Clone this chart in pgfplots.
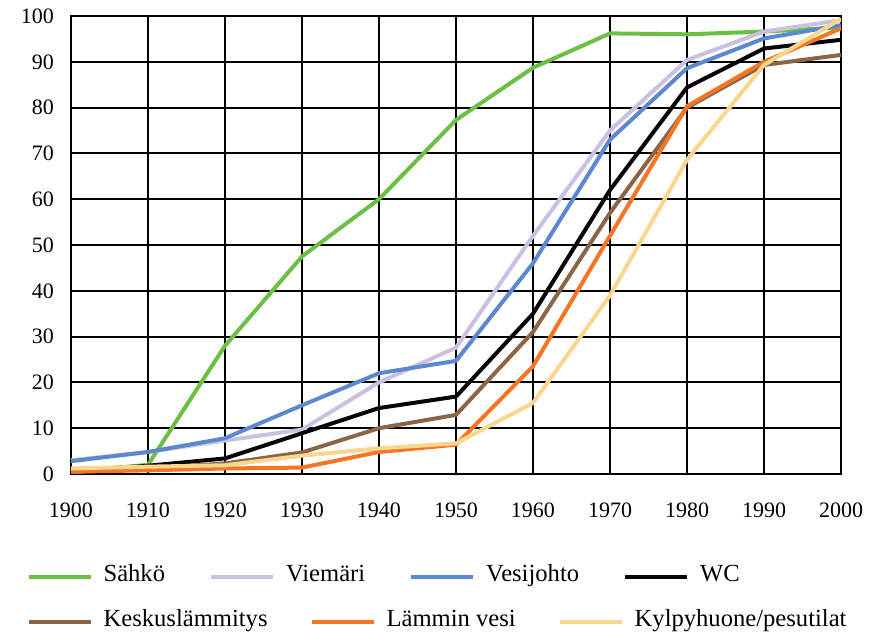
\documentclass[border=0pt]{standalone}
\usepackage{fontspec}
\setmainfont{Liberation Serif}
\usepackage{pgfplots}
\pgfplotsset{compat=1.18}
\definecolor{csahko}{RGB}{108,190,69}
\definecolor{cviem}{RGB}{202,192,226}
\definecolor{cvesi}{RGB}{92,136,208}
\definecolor{cwc}{RGB}{10,5,5}
\definecolor{ckesk}{RGB}{140,100,70}
\definecolor{clamm}{RGB}{244,118,36}
\definecolor{ckylp}{RGB}{250,214,142}
\pgfplotsset{
  common/.style={
    scale only axis, width=385pt, height=229pt,
    xmin=1900, xmax=2000, ymin=0, ymax=100,
    legend image code/.code={\draw[##1] (0pt,0pt) -- (31pt,0pt);},
  },
  legstyle/.style={
    legend style={draw=none, fill=none, anchor=west,
      font=\rmfamily\fontsize{12.3}{14}\selectfont,
      nodes={inner sep=0pt, text height=0.7em, text depth=0.25em},
      /tikz/every odd column/.append style={column sep=5.5pt}},
  },
}
\begin{document}
\begin{tikzpicture}
\begin{axis}[common, legstyle,
  xtick={1900,1910,...,2000}, ytick={0,10,...,100},
  grid=major, major grid style={black, line width=1pt},
  axis line style={black, line width=1pt},
  major tick length=0pt,
  tick label style={font=\rmfamily\fontsize{11}{13}\selectfont},
  /pgf/number format/assume math mode=true,
  /pgf/number format/1000 sep={},
  xticklabel style={yshift=-11pt},
  yticklabel style={xshift=-5pt},
  legend columns=4,
  legend style={at={(-0.066,-0.2249)},
    /tikz/every even column/.append style={column sep=22pt}},
  every axis plot/.append style={line width=2pt, line join=round},
]
\addplot[csahko] coordinates {(1900,0.5)(1910,2)(1920,28)(1930,47.5)(1940,60)(1950,77.3)(1960,88.7)(1970,96.2)(1980,96)(1990,96.6)(2000,97.5)};
\addlegendentry{Sähkö}
\addplot[cviem] coordinates {(1900,3)(1910,4.8)(1920,7.3)(1930,9.7)(1940,20)(1950,27.6)(1960,52)(1970,75)(1980,90.4)(1990,96.6)(2000,99.1)};
\addlegendentry{Viemäri}
\addplot[cvesi] coordinates {(1900,2.8)(1910,4.8)(1920,7.8)(1930,15)(1940,22)(1950,24.7)(1960,46)(1970,73)(1980,88.6)(1990,95.1)(2000,98)};
\addlegendentry{Vesijohto}
\addplot[cwc] coordinates {(1900,0.5)(1910,1.8)(1920,3.4)(1930,8.9)(1940,14.4)(1950,16.9)(1960,35)(1970,62)(1980,84.4)(1990,92.9)(2000,94.8)};
\addlegendentry{WC}
\addplot[ckesk, forget plot] coordinates {(1900,0.4)(1910,1.2)(1920,2.3)(1930,4.7)(1940,10)(1950,12.9)(1960,31)(1970,57)(1980,80)(1990,89.3)(2000,91.5)};
\addplot[clamm, forget plot] coordinates {(1900,0.5)(1910,0.8)(1920,1.2)(1930,1.4)(1940,4.8)(1950,6.4)(1960,23.5)(1970,52)(1980,80.3)(1990,90)(2000,97.3)};
\addplot[ckylp, forget plot] coordinates {(1900,1.2)(1910,1.6)(1920,1.9)(1930,4)(1940,5.6)(1950,6.7)(1960,15.5)(1970,39)(1980,68.6)(1990,89.3)(2000,99.4)};
\end{axis}
\begin{axis}[common, legstyle, hide axis,
  legend columns=3,
  legend style={at={(-0.066,-0.3231)},
    /tikz/every even column/.append style={column sep=21pt}},
]
\addlegendimage{ckesk, line width=2pt}
\addlegendentry{Keskuslämmitys}
\addlegendimage{clamm, line width=2pt}
\addlegendentry{Lämmin vesi}
\addlegendimage{ckylp, line width=2pt}
\addlegendentry{Kylpyhuone/pesutilat}
\end{axis}
\pgfresetboundingbox
\path (-35.5pt,-81pt) rectangle (399pt,237pt);
\end{tikzpicture}
\end{document}
